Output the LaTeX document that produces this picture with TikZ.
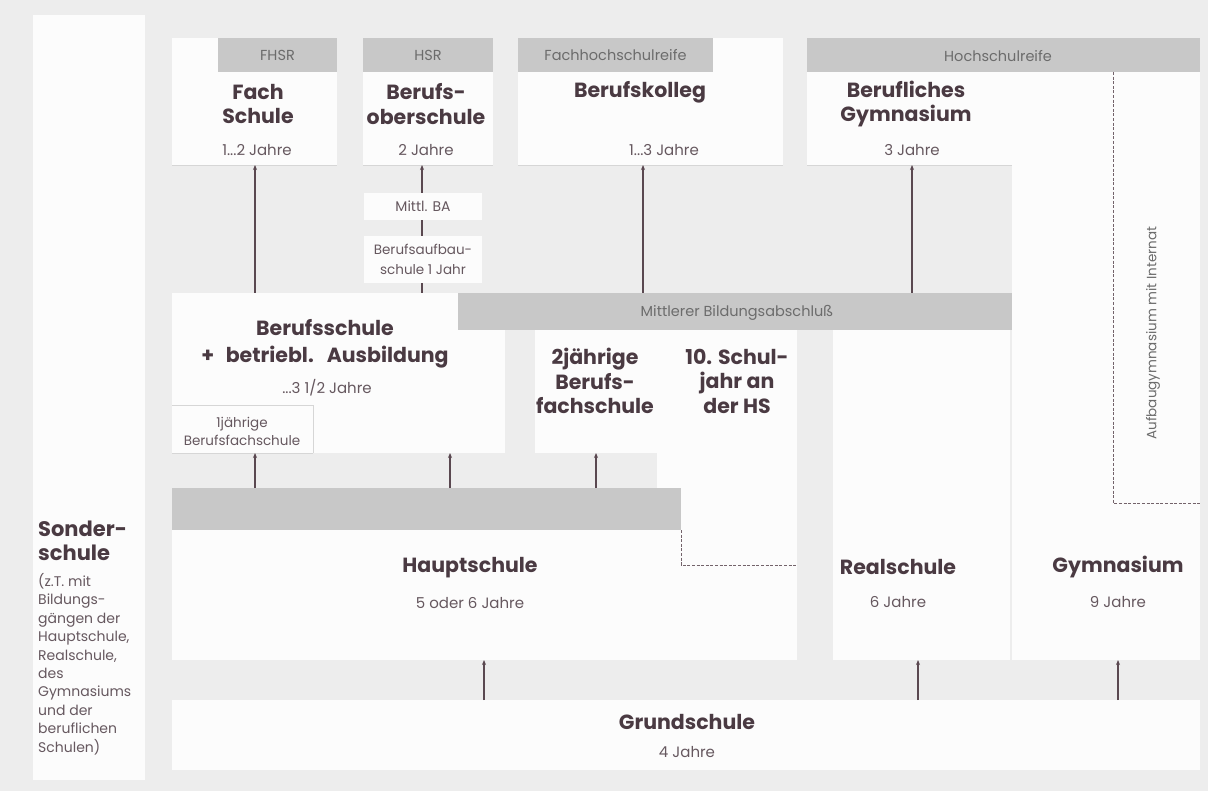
\documentclass[tikz,border=0pt]{standalone}
\usepackage{fontspec}
\setmainfont{Poppins}
\usetikzlibrary{arrows.meta,calc}
\definecolor{bg}{HTML}{EDEDED}
\definecolor{wbox}{HTML}{FCFCFC}
\definecolor{barc}{HTML}{C8C8C8}
\definecolor{ink}{HTML}{4A3A42}
\definecolor{sub}{HTML}{66585F}
\definecolor{bartext}{HTML}{6C6C6C}
\definecolor{arrc}{HTML}{5A4850}
\definecolor{edge}{HTML}{D6D6D6}
\tikzset{
  wb/.style={fill=wbox, draw=none, inner sep=0pt, outer sep=0pt},
  gb/.style={fill=barc, draw=none, inner sep=0pt, outer sep=0pt},
  ttl/.style={font=\bfseries\fontsize{20.5}{24.5}\selectfont, text=ink, align=center, inner sep=0pt},
  dur/.style={font=\fontsize{15}{15}\selectfont, text=sub, inner sep=0pt},
  smalltxt/.style={font=\fontsize{14}{19}\selectfont, text=sub, align=center, inner sep=0pt},
  bartxt/.style={font=\fontsize{14.5}{14}\selectfont, text=bartext, inner sep=0pt},
  conn/.style={draw=arrc, line width=1.1pt, -{Stealth[length=5pt,width=4pt]}},
  plainline/.style={draw=arrc, line width=1.1pt},
  dsh/.style={draw=arrc!85, line width=0.8pt, dash pattern=on 3pt off 1.6pt},
  edgeline/.style={draw=edge, line width=0.8pt},
}
\newcommand\mkbox[6]{\node[#6, anchor=north west, minimum width={(#4-#2)*1pt}, minimum height={(#5-#3)*1pt}] (#1) at (#2,#3) {};}
\begin{document}
\begin{tikzpicture}[x=1pt, y=-1pt]
\useasboundingbox (0,0) rectangle (1208,791);
\fill[bg] (0,0) rectangle (1208,791);
% white areas
\mkbox{sonder}{33}{15}{145}{780}{wb}
\mkbox{fach}{172}{38}{337}{165}{wb}
\mkbox{bos}{363}{38}{493}{165}{wb}
\mkbox{bk}{518}{38}{783}{165}{wb}
\mkbox{bgym}{807}{72}{1012}{165}{wb}
\mkbox{gym}{1012}{72}{1200}{660}{wb}
\mkbox{mba}{364}{193}{482}{220}{wb}
\mkbox{bas}{364}{236}{482}{283}{wb}
\mkbox{bs}{172}{293}{505}{453}{wb}
\mkbox{ejbf}{172}{405}{313}{453}{wb}
\mkbox{zjbf}{535}{330}{657}{453}{wb}
\mkbox{hs}{172}{488}{797}{660}{wb}
\mkbox{zsj}{657}{330}{797}{565}{wb}
\mkbox{rs}{833}{330}{1010}{660}{wb}
\mkbox{gs}{172}{700}{1200}{770}{wb}
% grey bars
\mkbox{fhsr}{218}{38}{337}{72}{gb}
\mkbox{hsr}{363}{38}{493}{72}{gb}
\mkbox{fhr}{518}{38}{713}{72}{gb}
\mkbox{hr}{807}{38}{1200}{72}{gb}
\mkbox{mbar}{458}{293}{1012}{330}{gb}
\mkbox{hbar}{172}{488}{681}{530}{gb}
% faint edges
\draw[edgeline] (fach.south west) -- (fach.south east);
\draw[edgeline] (bos.south west) -- (bos.south east);
\draw[edgeline] (bk.south west) -- (bk.south east);
\draw[edgeline] (bgym.south west) -- (bgym.south east);
\draw[edgeline] (ejbf.south west) -- (ejbf.south east);
\draw[edgeline] (ejbf.north west) -- (ejbf.north east) -- (ejbf.south east);
% bar labels
\node[bartxt] (tfhsr) at (fhsr.center) {FHSR};
\node[bartxt] (thsr) at (hsr.center) {HSR};
\node[bartxt] (tfhr) at (fhr.center) {Fachhochschulreife};
\node[bartxt] (thr) at (998,56) {Hochschulreife};
\node[bartxt] (tmbar) at (737,313) {Mittlerer Bildungsabschluß};
% titles
\node[ttl] (tfach) at (258,104) {Fach\\Schule};
\node[dur] (dfach) at (257,150) {1...2 Jahre};
\node[ttl] (tbos) at (426,104) {Berufs-\\oberschule};
\node[dur] (dbos) at (426,150) {2 Jahre};
\node[ttl] (tbk) at (640,92) {Berufskolleg};
\node[dur] (dbk) at (664,150) {1...3 Jahre};
\node[ttl] (tbgym) at (906,104) {Berufliches\\Gymnasium};
\node[dur] (dbgym) at (912,150) {3 Jahre};
\node[smalltxt] (tmba) at (mba.center) {Mittl. BA};
\node[smalltxt, font=\fontsize{13.5}{20}\selectfont] (tbas) at (bas.center) {Berufsaufbau-\\schule 1 Jahr};
\node[ttl, font=\bfseries\fontsize{20.5}{27}\selectfont] (tbs) at (325,344) {Berufsschule\\+\hspace{0.35em} betriebl.\hspace{0.35em} Ausbildung};
\node[dur] (dbs) at (327,388) {...3 1/2 Jahre};
\node[smalltxt, font=\fontsize{13.5}{18}\selectfont] (tejbf) at (242,431) {1jährige\\Berufsfachschule};
\node[ttl] (tzjbf) at (595,381) {2jährige\\Berufs-\\fachschule};
\node[ttl] (tzsj) at (737,381) {10. Schul-\\jahr an\\der HS};
\node[ttl] (ths) at (470,568) {Hauptschule};
\node[dur] (dhs) at (470,603) {5 oder 6 Jahre};
\node[ttl] (trs) at (898,567) {Realschule};
\node[dur] (drs) at (898,602) {6 Jahre};
\node[ttl] (tgym) at (1118,567) {Gymnasium};
\node[dur] (dgym) at (1118,602) {9 Jahre};
\node[ttl] (tgs) at (687,722) {Grundschule};
\node[dur] (dgs) at (687,752) {4 Jahre};
\node[bartxt, rotate=90, font=\fontsize{13.5}{14}\selectfont] (tauf) at (1153,333) {Aufbaugymnasium mit Internat};
\node[ttl, align=left, anchor=west, font=\bfseries\fontsize{21}{23.5}\selectfont] (tsonder) at (38,541) {Sonder-\\schule};
\node[smalltxt, align=left, anchor=west, font=\fontsize{14}{18.45}\selectfont] (dsonder) at (38,664) {(z.T. mit\\Bildungs-\\gängen der\\Hauptschule,\\Realschule,\\des\\Gymnasiums\\und der\\beruflichen\\Schulen)};
% dashed lines
\coordinate (zsjc) at (681,565);
\coordinate (abc) at (1113,503);
\draw[dsh] (hbar.south east) -- (zsjc) -- (zsjc -| zsj.east);
\draw[dsh] (hr.south -| abc) -- (abc) -- (abc -| gym.east);
% connector x positions
\coordinate (xa) at (255,0);
\coordinate (xb) at (422,0);
\coordinate (xc) at (643,0);
\coordinate (xd) at (912,0);
\coordinate (xe) at (450,0);
\coordinate (xf) at (596,0);
\coordinate (xg) at (484,0);
\coordinate (xh) at (918,0);
\coordinate (xi) at (1118,0);
% connectors
\draw[conn] (bs.north -| xa) -- (fach.south -| xa);
\draw[conn] (mba.north -| xb) -- (bos.south -| xb);
\draw[plainline] (bas.north -| xb) -- (mba.south -| xb);
\draw[plainline] (bs.north -| xb) -- (bas.south -| xb);
\draw[conn] (mbar.north -| xc) -- (bk.south -| xc);
\draw[conn] (mbar.north -| xd) -- (bgym.south -| xd);
\draw[conn] (hbar.north -| xa) -- (ejbf.south -| xa);
\draw[conn] (hbar.north -| xe) -- (bs.south -| xe);
\draw[conn] (hbar.north -| xf) -- (zjbf.south -| xf);
\draw[conn] (gs.north -| xg) -- (hs.south -| xg);
\draw[conn] (gs.north -| xh) -- (rs.south -| xh);
\draw[conn] (gs.north -| xi) -- (gym.south -| xi);
\end{tikzpicture}
\end{document}
